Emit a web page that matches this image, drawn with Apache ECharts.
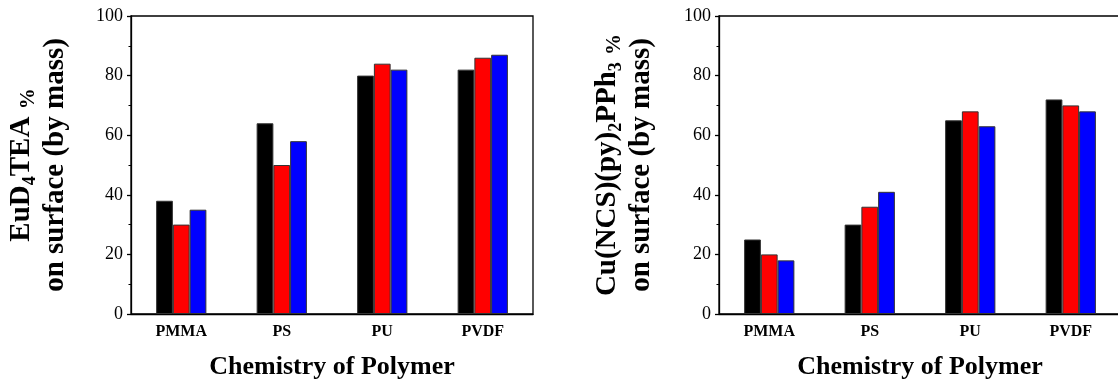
<!DOCTYPE html>
<html><head><meta charset="utf-8">
<script src="https://cdn.jsdelivr.net/npm/echarts@6/dist/echarts.min.js"></script>
<style>html,body{margin:0;padding:0;background:#fff}#c{width:1118px;height:380px}</style>
</head><body><div id="c"></div>
<script>
const categories = ['PMMA', 'PS', 'PU', 'PVDF'];
const yTicks = [0, 20, 40, 60, 80, 100];
const euBlack = [38, 64, 80, 82];
const euRed = [30, 50, 84, 86];
const euBlue = [35, 58, 82, 87];
const cuBlack = [25, 30, 65, 72];
const cuRed = [20, 36, 68, 70];
const cuBlue = [18, 41, 63, 68];
const xTitle = 'Chemistry of Polymer';

const SERIF = 'Liberation Serif, Times New Roman, serif';
const lineBlack = { color: '#000', width: 1.3 };
const big = { fontFamily: SERIF, fontWeight: 'bold', fontSize: 29, lineHeight: 34, color: '#000' };
const sub = { fontFamily: SERIF, fontWeight: 'bold', fontSize: 18, lineHeight: 18, verticalAlign: 'bottom', color: '#000' };
const pct = { fontFamily: SERIF, fontWeight: 'bold', fontSize: 21, lineHeight: 30, verticalAlign: 'bottom', color: '#000' };
const richStyle = { b: big, s: sub, p: pct };

function xAxes(i) {
  return [{
    gridIndex: i, type: 'category', data: categories,
    axisLine: { lineStyle: lineBlack },
    axisTick: { alignWithLabel: true, length: 4, lineStyle: lineBlack },
    axisLabel: { fontFamily: SERIF, fontWeight: 'bold', fontSize: 16, color: '#000', margin: 10 },
    name: xTitle, nameLocation: 'middle', nameGap: 40,
    nameTextStyle: { fontFamily: SERIF, fontWeight: 'bold', fontSize: 26, color: '#000' }
  }, {
    gridIndex: i, type: 'category', data: categories, position: 'bottom',
    axisLine: { show: false },
    axisTick: { inside: true, length: 3, lineStyle: lineBlack },
    axisLabel: { show: false }
  }];
}
function yAxis(i, name, gap) {
  return {
    gridIndex: i, type: 'value', min: yTicks[0], max: yTicks[yTicks.length - 1], interval: yTicks[1] - yTicks[0],
    axisLine: { show: true, lineStyle: lineBlack },
    axisTick: { show: true, length: 4, lineStyle: lineBlack },
    minorTick: { show: true, splitNumber: 2, length: 2.5, lineStyle: { color: '#000', width: 1 } },
    splitLine: { show: false },
    axisLabel: { fontFamily: SERIF, fontSize: 18, color: '#000', margin: 8 },
    name: name, nameLocation: 'middle', nameRotate: 90, nameGap: gap,
    nameTextStyle: { rich: richStyle, align: 'center' }
  };
}
function bars(i, data, color) {
  return {
    type: 'bar', xAxisIndex: i * 2, yAxisIndex: i, data: data,
    barGap: '0%', barCategoryGap: '50%',
    itemStyle: { color: color, borderColor: '#333', borderWidth: 1 },
    emphasis: { disabled: true }
  };
}

const chart = echarts.init(document.getElementById('c'), null, { renderer: 'canvas' });
chart.setOption({
  animation: false,
  backgroundColor: '#fff',
  grid: [
    { left: 131, top: 16, width: 402, height: 298, outerBoundsMode: 'none', containLabel: false, show: true, borderColor: '#000', borderWidth: 1.3, backgroundColor: 'transparent' },
    { left: 719, top: 16, width: 402, height: 298, outerBoundsMode: 'none', containLabel: false, show: true, borderColor: '#000', borderWidth: 1.3, backgroundColor: 'transparent' }
  ],
  xAxis: [].concat(xAxes(0), xAxes(1)),
  yAxis: [
    yAxis(0, '{b|EuD}{s|4}{b|TEA }{p|%}\n{b|on surface (by mass)}', 58),
    yAxis(1, '{b|Cu(NCS)(py)}{s|2}{b|PPh}{s|3}{b| }{p|%}\n{b|on surface (by mass)}', 60)
  ],
  series: [
    bars(0, euBlack, '#000'), bars(0, euRed, '#ff0000'), bars(0, euBlue, '#0000ff'),
    bars(1, cuBlack, '#000'), bars(1, cuRed, '#ff0000'), bars(1, cuBlue, '#0000ff')
  ]
});
</script></body></html>
